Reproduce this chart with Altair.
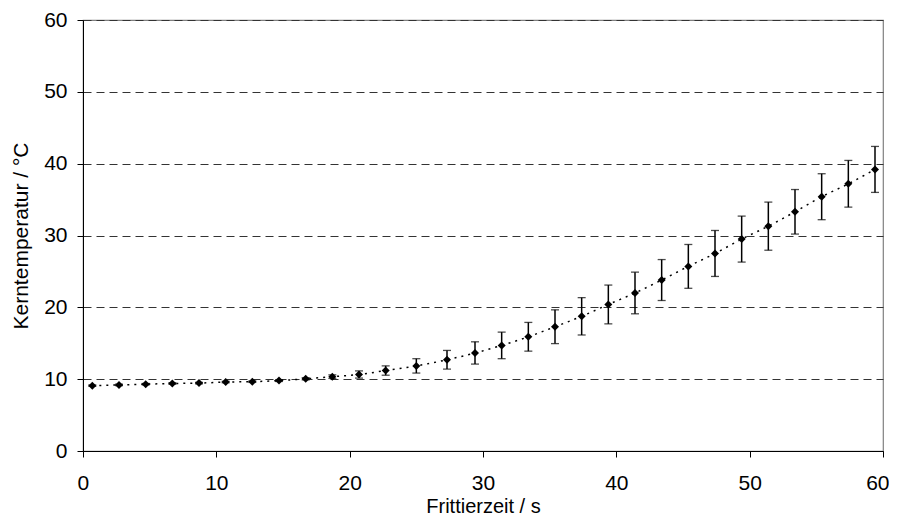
import altair as alt
import pandas as pd

time_s = [0.7, 2.7, 4.7, 6.7, 8.7, 10.7, 12.7, 14.7, 16.7, 18.7, 20.7, 22.7, 25.0, 27.3,
          29.4, 31.4, 33.4, 35.4, 37.4, 39.4, 41.4, 43.4, 45.4, 47.4, 49.4, 51.4, 53.4,
          55.4, 57.4, 59.4]
temp_c = [9.1, 9.2, 9.3, 9.4, 9.45, 9.6, 9.65, 9.8, 10.05, 10.35, 10.65, 11.2, 11.85, 12.7,
          13.65, 14.7, 15.9, 17.3, 18.75, 20.4, 22.0, 23.8, 25.7, 27.5, 29.5, 31.3, 33.3,
          35.4, 37.2, 39.2]
err_c = [0.1, 0.1, 0.1, 0.1, 0.1, 0.1, 0.1, 0.12, 0.15, 0.25, 0.5, 0.65, 1.0, 1.3,
         1.55, 1.85, 2.0, 2.35, 2.6, 2.7, 2.9, 2.85, 3.05, 3.2, 3.2, 3.35, 3.1,
         3.2, 3.25, 3.2]

df = pd.DataFrame({"t": time_s, "T": temp_c, "e": err_c})
df["lo"] = df["T"] - df["e"]
df["hi"] = df["T"] + df["e"]

FONT = "Liberation Sans"

xscale = alt.Scale(domain=[0, 60], nice=False, zero=False)
yscale = alt.Scale(domain=[0, 60], nice=False)

xaxis = alt.Axis(title="Frittierzeit / s", values=[0, 10, 20, 30, 40, 50, 60], grid=False,
                 tickSize=6, tickColor="black", domainColor="black", labelPadding=15,
                 labelFontSize=21, titleFontSize=20, labelFont=FONT, titleFont=FONT,
                 labelColor="black", titleColor="black", titleFontWeight="normal",
                 titleBaseline="alphabetic", titleY=61,
                 labelFlush=True, labelFlushOffset=6)
yaxis = alt.Axis(title="Kerntemperatur / °C", values=[0, 10, 20, 30, 40, 50, 60], grid=True,
                 gridDash=[8, 5], gridColor="#333333", gridWidth=1,
                 tickSize=6, tickColor="black", domainColor="black", labelPadding=10,
                 labelFontSize=21, titleFontSize=21, labelFont=FONT, titleFont=FONT,
                 labelColor="black", titleColor="black", titleFontWeight="normal",
                 titleBaseline="alphabetic", titleX=-56, titleAngle=-90, labelFlush=False)

base = alt.Chart(df)

line = base.mark_line(color="black", strokeDash=[2, 5], strokeWidth=1.5,
                      interpolate="monotone").encode(
    x=alt.X("t:Q", scale=xscale, axis=xaxis),
    y=alt.Y("T:Q", scale=yscale, axis=yaxis),
)

bars = base.mark_rule(color="black", strokeWidth=1.5).encode(
    x="t:Q", y="lo:Q", y2="hi:Q"
)
cap_lo = base.mark_tick(color="black", orient="horizontal", size=8, thickness=1.3).encode(
    x="t:Q", y="lo:Q"
)
cap_hi = base.mark_tick(color="black", orient="horizontal", size=8, thickness=1.3).encode(
    x="t:Q", y="hi:Q"
)
pts = base.mark_point(shape="diamond", filled=True, color="black", size=64, opacity=1).encode(
    x="t:Q", y="T:Q"
)

chart = alt.layer(line, bars, cap_lo, cap_hi, pts).properties(
    width=800, height=431,
    autosize=alt.AutoSizeParams(type="none"),
    padding={"left": 75, "top": 12, "right": 6, "bottom": 67},
).configure_view(stroke="#808080", strokeWidth=1.2)

chart.save("out.html", embed_options={"renderer": "svg", "actions": False})
